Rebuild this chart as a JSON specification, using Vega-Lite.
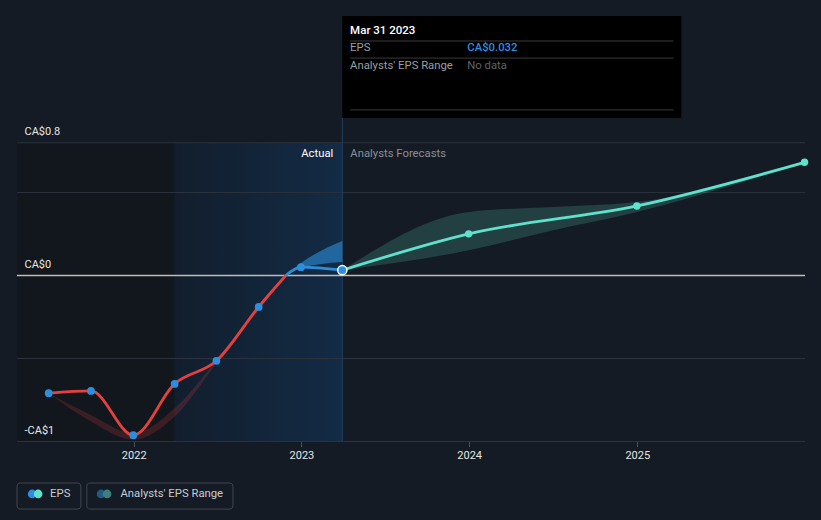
{
  "$schema": "https://vega.github.io/schema/vega-lite/v6.json",
  "width": 788,
  "height": 441.5,
  "autosize": {"type": "none"},
  "padding": {"left": 17, "top": 0, "right": 16, "bottom": 78.5},
  "background": "#151b24",
  "config": {"view": {"stroke": null}, "font": "Roboto", "text": {"font": "Roboto"}},
  "data": {"values": [{}]},
  "datasets": {
    "red": [
      {"d": "2021-06-30", "v": -0.709},
      {"d": "2021-09-30", "v": -0.695},
      {"d": "2021-12-31", "v": -0.962},
      {"d": "2022-03-31", "v": -0.653},
      {"d": "2022-06-30", "v": -0.514},
      {"d": "2022-09-30", "v": -0.189},
      {"d": "2022-11-28", "v": 0}
    ],
    "blue": [
      {"d": "2022-11-28", "v": 0},
      {"d": "2022-12-31", "v": 0.05},
      {"d": "2023-03-31", "v": 0.032}
    ],
    "fc": [
      {"d": "2023-03-31", "v": 0.032},
      {"d": "2023-12-31", "v": 0.251},
      {"d": "2024-12-31", "v": 0.419},
      {"d": "2025-12-31", "v": 0.682}
    ],
    "actualpts": [
      {"d": "2021-06-30", "v": -0.709},
      {"d": "2021-09-30", "v": -0.695},
      {"d": "2021-12-31", "v": -0.962},
      {"d": "2022-03-31", "v": -0.653},
      {"d": "2022-06-30", "v": -0.514},
      {"d": "2022-09-30", "v": -0.189},
      {"d": "2022-12-31", "v": 0.05}
    ],
    "fcpts": [
      {"d": "2023-12-31", "v": 0.251},
      {"d": "2024-12-31", "v": 0.419},
      {"d": "2025-12-31", "v": 0.682}
    ],
    "redband": [
      {"d": "2021-06-30", "lo": -0.709, "hi": -0.709},
      {"d": "2021-09-30", "lo": -0.88, "hi": -0.84},
      {"d": "2021-12-31", "lo": -0.99, "hi": -0.95},
      {"d": "2022-03-31", "lo": -0.85, "hi": -0.80},
      {"d": "2022-06-30", "lo": -0.53, "hi": -0.51},
      {"d": "2022-09-30", "lo": -0.21, "hi": -0.185},
      {"d": "2022-11-28", "lo": 0, "hi": 0}
    ],
    "blueband": [
      {"d": "2022-11-28", "lo": 0, "hi": 0},
      {"d": "2022-12-31", "lo": 0.045, "hi": 0.075},
      {"d": "2023-03-31", "lo": 0.082, "hi": 0.208}
    ],
    "fcband": [
      {"d": "2023-03-31", "lo": 0.032, "hi": 0.032},
      {"d": "2023-12-31", "lo": 0.152, "hi": 0.383},
      {"d": "2024-06-30", "lo": 0.272, "hi": 0.413},
      {"d": "2024-12-31", "lo": 0.383, "hi": 0.443},
      {"d": "2025-12-31", "lo": 0.682, "hi": 0.682}
    ],
    "grid": [{"g": -1}, {"g": -0.5}, {"g": 0.5}, {"g": 0.8}]
  },
  "layer": [
    {
      "mark": {"type": "rect", "color": "#12161d"},
      "encoding": {
        "x": {
          "datum": {"year": 2021, "month": 4, "date": 22},
          "type": "temporal",
          "scale": {"domain": [{"year": 2021, "month": 4, "date": 22}, {"year": 2026, "month": 1, "date": 1}], "nice": false},
          "axis": {
            "title": null, "domain": false, "grid": false, "ticks": true,
            "tickColor": "#4a4f57", "tickSize": 5, "labelColor": "#e6e6e6",
            "labelFontSize": 11, "labelPadding": 3, "format": "%Y", "labelFont": "Roboto",
            "values": [{"year": 2022, "month": 1, "date": 1}, {"year": 2023, "month": 1, "date": 1}, {"year": 2024, "month": 1, "date": 1}, {"year": 2025, "month": 1, "date": 1}]
          }
        },
        "x2": {"datum": {"year": 2022, "month": 3, "date": 31}},
        "y": {
          "datum": 0.8,
          "type": "quantitative",
          "scale": {"domain": [-1, 1.66], "nice": false, "zero": false},
          "axis": {
            "title": null, "domain": false, "grid": false, "ticks": false, "zindex": 2,
            "values": [-1, 0, 0.8],
            "labelExpr": "datum.value == 0.8 ? 'CA$0.8' : datum.value == 0 ? 'CA$0' : '-CA$1'",
            "labelAlign": "left", "labelPadding": -7, "labelBaseline": "alphabetic",
            "labelOffset": -8, "labelColor": "#e6e6e6", "labelFontSize": 11,
            "labelFont": "Roboto", "labelFlush": false, "labelOverlap": false, "labelBound": false
          }
        },
        "y2": {"datum": -1}
      }
    },
    {
      "mark": {"type": "rect", "color": {"gradient": "linear", "x1": 0, "y1": 0, "x2": 1, "y2": 0, "stops": [{"offset": 0, "color": "#121e2d"}, {"offset": 1, "color": "#132b45"}]}},
      "encoding": {
        "x": {"datum": {"year": 2022, "month": 3, "date": 31}, "type": "temporal"},
        "x2": {"datum": {"year": 2023, "month": 3, "date": 31}},
        "y": {"datum": 0.8, "type": "quantitative"},
        "y2": {"datum": -1}
      }
    },
    {
      "data": {"name": "grid"},
      "mark": {"type": "rule", "color": "#2c323b", "strokeWidth": 1},
      "encoding": {"y": {"field": "g", "type": "quantitative"}}
    },
    {
      "mark": {"type": "rule", "color": "#1e4263", "strokeWidth": 1},
      "encoding": {
        "x": {"datum": {"year": 2023, "month": 3, "date": 31}, "type": "temporal"},
        "y": {"datum": 0.949, "type": "quantitative"},
        "y2": {"datum": -1}
      }
    },
    {
      "data": {"name": "redband"},
      "mark": {"type": "area", "color": "#e04040", "opacity": 0.2, "interpolate": "monotone"},
      "encoding": {
        "x": {"field": "d", "type": "temporal"},
        "y": {"field": "lo", "type": "quantitative"},
        "y2": {"field": "hi"}
      }
    },
    {
      "data": {"name": "blueband"},
      "mark": {"type": "area", "color": "#2b8fd8", "opacity": 0.6, "interpolate": "monotone"},
      "encoding": {
        "x": {"field": "d", "type": "temporal"},
        "y": {"field": "lo", "type": "quantitative"},
        "y2": {"field": "hi"}
      }
    },
    {
      "data": {"name": "fcband"},
      "mark": {"type": "area", "color": "#5ee2cc", "opacity": 0.18, "interpolate": "monotone"},
      "encoding": {
        "x": {"field": "d", "type": "temporal"},
        "y": {"field": "lo", "type": "quantitative"},
        "y2": {"field": "hi"}
      }
    },
    {
      "mark": {"type": "rule", "color": "#bdbdbd", "strokeWidth": 1.6},
      "encoding": {"y": {"datum": 0, "type": "quantitative"}}
    },
    {
      "data": {"name": "red"},
      "mark": {"type": "line", "color": "#e5413f", "strokeWidth": 2.8, "interpolate": "monotone"},
      "encoding": {"x": {"field": "d", "type": "temporal"}, "y": {"field": "v", "type": "quantitative"}}
    },
    {
      "data": {"name": "blue"},
      "mark": {"type": "line", "color": "#2b8fd8", "strokeWidth": 2.8, "interpolate": "monotone"},
      "encoding": {"x": {"field": "d", "type": "temporal"}, "y": {"field": "v", "type": "quantitative"}}
    },
    {
      "data": {"name": "fc"},
      "mark": {"type": "line", "color": "#5ee2cc", "strokeWidth": 2.8, "interpolate": "monotone"},
      "encoding": {"x": {"field": "d", "type": "temporal"}, "y": {"field": "v", "type": "quantitative"}}
    },
    {
      "data": {"name": "actualpts"},
      "mark": {"type": "circle", "color": "#2b8fe0", "size": 60, "opacity": 1},
      "encoding": {"x": {"field": "d", "type": "temporal"}, "y": {"field": "v", "type": "quantitative"}}
    },
    {
      "data": {"name": "fcpts"},
      "mark": {"type": "circle", "color": "#5ee2cc", "size": 55, "opacity": 1},
      "encoding": {"x": {"field": "d", "type": "temporal"}, "y": {"field": "v", "type": "quantitative"}}
    },
    {
      "mark": {"type": "point", "filled": true, "fill": "#2b8fe0", "stroke": "#ffffff", "strokeWidth": 1.5, "size": 85, "opacity": 1},
      "encoding": {
        "x": {"datum": {"year": 2023, "month": 3, "date": 31}, "type": "temporal"},
        "y": {"datum": 0.032, "type": "quantitative"}
      }
    },
    {
      "mark": {"type": "text", "text": "Actual", "align": "right", "baseline": "middle", "dx": -9, "color": "#ffffff", "fontSize": 11.3},
      "encoding": {
        "x": {"datum": {"year": 2023, "month": 3, "date": 31}, "type": "temporal"},
        "y": {"datum": 0.732, "type": "quantitative"}
      }
    },
    {
      "mark": {"type": "text", "text": "Analysts Forecasts", "align": "left", "baseline": "middle", "dx": 8, "color": "#8a8f96", "fontSize": 11.3},
      "encoding": {
        "x": {"datum": {"year": 2023, "month": 3, "date": 31}, "type": "temporal"},
        "y": {"datum": 0.732, "type": "quantitative"}
      }
    },
    {
      "mark": {"type": "rect", "color": "#000000"},
      "encoding": {
        "x": {"datum": {"year": 2023, "month": 3, "date": 31}, "type": "temporal"},
        "x2": {"datum": {"year": 2025, "month": 4, "date": 7}},
        "y": {"datum": 1.563, "type": "quantitative"},
        "y2": {"datum": 0.949}
      }
    },
    {
      "mark": {"type": "rule", "color": "#3a3a3a", "strokeWidth": 1},
      "encoding": {
        "x": {"datum": {"year": 2023, "month": 4, "date": 17}, "type": "temporal"},
        "x2": {"datum": {"year": 2025, "month": 3, "date": 21}},
        "y": {"datum": 1.413, "type": "quantitative"}
      }
    },
    {
      "mark": {"type": "rule", "color": "#3a3a3a", "strokeWidth": 1},
      "encoding": {
        "x": {"datum": {"year": 2023, "month": 4, "date": 17}, "type": "temporal"},
        "x2": {"datum": {"year": 2025, "month": 3, "date": 21}},
        "y": {"datum": 1.31, "type": "quantitative"}
      }
    },
    {
      "mark": {"type": "rule", "color": "#3a3a3a", "strokeWidth": 1},
      "encoding": {
        "x": {"datum": {"year": 2023, "month": 4, "date": 17}, "type": "temporal"},
        "x2": {"datum": {"year": 2025, "month": 3, "date": 21}},
        "y": {"datum": 0.998, "type": "quantitative"}
      }
    },
    {
      "mark": {"type": "text", "text": "Mar 31 2023", "align": "left", "baseline": "middle", "color": "#ffffff", "fontSize": 11.5, "fontWeight": 500},
      "encoding": {
        "x": {"datum": {"year": 2023, "month": 4, "date": 17}, "type": "temporal"},
        "y": {"datum": 1.473, "type": "quantitative"}
      }
    },
    {
      "mark": {"type": "text", "text": "EPS", "align": "left", "baseline": "middle", "color": "#9a9ea4", "fontSize": 11.3},
      "encoding": {
        "x": {"datum": {"year": 2023, "month": 4, "date": 17}, "type": "temporal"},
        "y": {"datum": 1.37, "type": "quantitative"}
      }
    },
    {
      "mark": {"type": "text", "text": "CA$0.032", "align": "left", "baseline": "middle", "color": "#2b8fe0", "fontSize": 11.3, "fontWeight": 500},
      "encoding": {
        "x": {"datum": {"year": 2023, "month": 12, "date": 28}, "type": "temporal"},
        "y": {"datum": 1.37, "type": "quantitative"}
      }
    },
    {
      "mark": {"type": "text", "text": "Analysts' EPS Range", "align": "left", "baseline": "middle", "color": "#9a9ea4", "fontSize": 11.3},
      "encoding": {
        "x": {"datum": {"year": 2023, "month": 4, "date": 17}, "type": "temporal"},
        "y": {"datum": 1.262, "type": "quantitative"}
      }
    },
    {
      "mark": {"type": "text", "text": "No data", "align": "left", "baseline": "middle", "color": "#5f6368", "fontSize": 11.3},
      "encoding": {
        "x": {"datum": {"year": 2023, "month": 12, "date": 28}, "type": "temporal"},
        "y": {"datum": 1.262, "type": "quantitative"}
      }
    },
    {
      "mark": {"type": "rect", "fill": null, "fillOpacity": 0, "stroke": "#40454d", "strokeWidth": 1, "cornerRadius": 3},
      "encoding": {
        "x": {"datum": {"year": 2021, "month": 4, "date": 22}, "type": "temporal"},
        "x2": {"datum": {"year": 2021, "month": 9, "date": 8}},
        "y": {"datum": -1.25, "type": "quantitative"},
        "y2": {"datum": -1.407}
      }
    },
    {
      "mark": {"type": "rect", "fill": null, "fillOpacity": 0, "stroke": "#40454d", "strokeWidth": 1, "cornerRadius": 3},
      "encoding": {
        "x": {"datum": {"year": 2021, "month": 9, "date": 21}, "type": "temporal"},
        "x2": {"datum": {"year": 2022, "month": 8, "date": 5}},
        "y": {"datum": -1.25, "type": "quantitative"},
        "y2": {"datum": -1.407}
      }
    },
    {
      "mark": {"type": "circle", "color": "#2b8fe0", "size": 75, "opacity": 1},
      "encoding": {
        "x": {"datum": {"year": 2021, "month": 5, "date": 25}, "type": "temporal"},
        "y": {"datum": -1.316, "type": "quantitative"}
      }
    },
    {
      "mark": {"type": "circle", "color": "#5ee2cc", "size": 75, "opacity": 1},
      "encoding": {
        "x": {"datum": {"year": 2021, "month": 6, "date": 7}, "type": "temporal"},
        "y": {"datum": -1.316, "type": "quantitative"}
      }
    },
    {
      "mark": {"type": "circle", "color": "#1f5a8a", "size": 75, "opacity": 1},
      "encoding": {
        "x": {"datum": {"year": 2021, "month": 10, "date": 22}, "type": "temporal"},
        "y": {"datum": -1.316, "type": "quantitative"}
      }
    },
    {
      "mark": {"type": "circle", "color": "#3d7f7a", "size": 75, "opacity": 1},
      "encoding": {
        "x": {"datum": {"year": 2021, "month": 11, "date": 4}, "type": "temporal"},
        "y": {"datum": -1.316, "type": "quantitative"}
      }
    },
    {
      "mark": {"type": "text", "text": "EPS", "align": "left", "baseline": "middle", "color": "#c8cbd0", "fontSize": 11.3},
      "encoding": {
        "x": {"datum": {"year": 2021, "month": 7, "date": 3}, "type": "temporal"},
        "y": {"datum": -1.316, "type": "quantitative"}
      }
    },
    {
      "mark": {"type": "text", "text": "Analysts' EPS Range", "align": "left", "baseline": "middle", "color": "#c8cbd0", "fontSize": 11.3},
      "encoding": {
        "x": {"datum": {"year": 2021, "month": 12, "date": 3}, "type": "temporal"},
        "y": {"datum": -1.316, "type": "quantitative"}
      }
    }
  ]
}
